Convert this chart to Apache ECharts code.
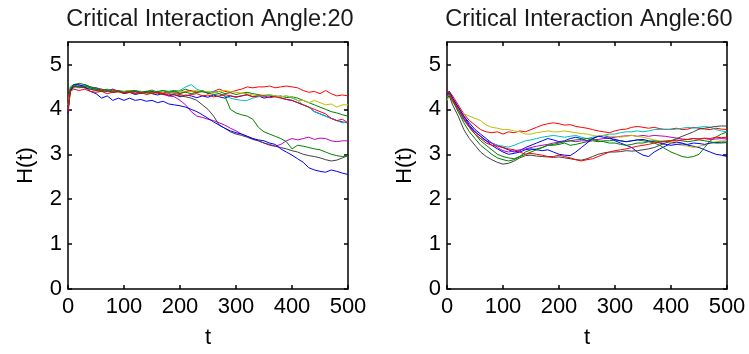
<!DOCTYPE html>
<html><head><meta charset="utf-8">
<script src="https://cdn.jsdelivr.net/npm/echarts@6/dist/echarts.min.js"></script>
<style>html,body{margin:0;padding:0;background:#fff}#c{width:749px;height:354px}</style>
</head><body><div id="c"></div>
<script>
// time steps (shared by every run)
var tValues = [0, 4, 10, 20, 30, 40, 50, 60, 70, 80, 90, 100, 110, 120, 130, 140, 150, 160, 170, 180, 190, 200,
  210, 220, 230, 240, 250, 260, 270, 280, 290, 300, 310, 320, 330, 340, 350, 360, 370, 380, 390, 400,
  410, 420, 430, 440, 450, 460, 470, 480, 490, 500];
var xTicks = [0, 100, 200, 300, 400, 500];
var yTicks = [0, 1, 2, 3, 4, 5];
var titles = ['Critical Interaction Angle:20', 'Critical Interaction Angle:60'];
var runColors = ['#0000ff', '#008000', '#ff0000', '#00bfbf', '#bf00bf', '#bfbf00', '#404040', '#0000ff', '#008000', '#ff0000'];

// ---- Angle 20 runs ----
var A20_1 = [4.0, 4.45, 4.5, 4.52, 4.55, 4.5, 4.45, 4.4, 4.42, 4.38, 4.4, 4.35, 4.38, 4.33, 4.36, 4.4, 4.35, 4.32, 4.36, 4.3, 4.33, 4.28, 4.32, 4.3, 4.26, 4.3, 4.27, 4.32, 4.28, 4.25, 4.3, 4.27, 4.3, 4.33, 4.28, 4.3, 4.25, 4.28, 4.3, 4.26, 4.22, 4.2, 4.15, 4.1, 4.05, 3.95, 3.9, 3.85, 3.8, 3.75, 3.72, 3.7];
var A20_2 = [4.1, 4.5, 4.55, 4.58, 4.55, 4.5, 4.48, 4.45, 4.42, 4.45, 4.4, 4.38, 4.42, 4.4, 4.36, 4.4, 4.43, 4.38, 4.35, 4.4, 4.42, 4.4, 4.45, 4.4, 4.38, 4.42, 4.36, 4.38, 4.4, 4.35, 4.37, 4.33, 4.36, 4.38, 4.35, 4.33, 4.3, 4.32, 4.28, 4.3, 4.26, 4.28, 4.25, 4.2, 4.15, 4.1, 4.05, 4.0, 3.95, 3.92, 3.88, 3.85];
var A20_3 = [4.2, 4.45, 4.5, 4.48, 4.5, 4.45, 4.42, 4.45, 4.4, 4.42, 4.38, 4.4, 4.42, 4.38, 4.4, 4.35, 4.38, 4.4, 4.36, 4.4, 4.38, 4.35, 4.4, 4.42, 4.38, 4.4, 4.36, 4.4, 4.45, 4.4, 4.38, 4.42, 4.45, 4.5, 4.48, 4.5, 4.5, 4.52, 4.48, 4.5, 4.52, 4.5, 4.48, 4.42, 4.38, 4.4, 4.35, 4.42, 4.35, 4.3, 4.32, 4.3];
var A20_4 = [4.0, 4.4, 4.48, 4.5, 4.52, 4.48, 4.45, 4.42, 4.4, 4.38, 4.42, 4.4, 4.38, 4.42, 4.4, 4.36, 4.4, 4.38, 4.42, 4.4, 4.38, 4.42, 4.5, 4.55, 4.45, 4.4, 4.38, 4.4, 4.35, 4.3, 4.25, 4.22, 4.2, 4.2, 4.25, 4.28, 4.3, 4.32, 4.3, 4.28, 4.3, 4.25, 4.2, 4.1, 4.05, 3.95, 3.9, 3.85, 3.8, 3.75, 3.7, 3.72];
var A20_5 = [4.05, 4.45, 4.52, 4.5, 4.48, 4.45, 4.48, 4.42, 4.4, 4.45, 4.4, 4.38, 4.4, 4.36, 4.4, 4.38, 4.35, 4.38, 4.33, 4.3, 4.28, 4.2, 4.1, 3.95, 3.85, 3.82, 3.78, 3.75, 3.7, 3.65, 3.58, 3.52, 3.45, 3.4, 3.35, 3.3, 3.25, 3.2, 3.18, 3.22, 3.3, 3.35, 3.32, 3.35, 3.38, 3.33, 3.36, 3.35, 3.3, 3.28, 3.3, 3.3];
var A20_6 = [4.1, 4.45, 4.48, 4.52, 4.5, 4.45, 4.42, 4.4, 4.43, 4.4, 4.38, 4.4, 4.42, 4.38, 4.4, 4.36, 4.38, 4.35, 4.4, 4.38, 4.36, 4.4, 4.38, 4.4, 4.42, 4.38, 4.4, 4.36, 4.4, 4.42, 4.4, 4.38, 4.36, 4.35, 4.32, 4.3, 4.32, 4.33, 4.3, 4.28, 4.3, 4.28, 4.2, 4.2, 4.15, 4.2, 4.15, 4.1, 4.12, 4.05, 4.1, 4.1];
var A20_7 = [4.0, 4.4, 4.5, 4.52, 4.48, 4.45, 4.42, 4.4, 4.42, 4.38, 4.4, 4.36, 4.38, 4.4, 4.35, 4.38, 4.4, 4.36, 4.33, 4.35, 4.32, 4.3, 4.28, 4.25, 4.2, 4.1, 4.0, 3.85, 3.65, 3.58, 3.5, 3.45, 3.42, 3.38, 3.33, 3.3, 3.25, 3.22, 3.18, 3.15, 3.12, 3.08, 3.05, 3.0, 2.97, 2.95, 2.92, 2.88, 2.85, 2.87, 2.92, 2.97];
var A20_8 = [3.9, 4.4, 4.55, 4.55, 4.5, 4.4, 4.35, 4.25, 4.3, 4.2, 4.25, 4.2, 4.25, 4.2, 4.22, 4.18, 4.2, 4.15, 4.18, 4.12, 4.1, 4.08, 4.05, 4.0, 3.95, 3.88, 3.8, 3.72, 3.65, 3.58, 3.52, 3.48, 3.45, 3.4, 3.35, 3.32, 3.3, 3.25, 3.22, 3.12, 3.05, 2.98, 2.9, 2.82, 2.7, 2.65, 2.62, 2.6, 2.65, 2.62, 2.58, 2.55];
var A20_9 = [4.0, 4.45, 4.55, 4.5, 4.52, 4.48, 4.45, 4.42, 4.45, 4.4, 4.42, 4.38, 4.4, 4.42, 4.38, 4.4, 4.36, 4.4, 4.42, 4.38, 4.4, 4.36, 4.38, 4.35, 4.38, 4.4, 4.36, 4.33, 4.35, 4.3, 4.0, 3.92, 3.88, 3.85, 3.78, 3.6, 3.5, 3.45, 3.4, 3.35, 3.28, 3.12, 3.2, 3.18, 3.15, 3.12, 3.1, 3.05, 3.0, 2.97, 2.95, 2.97];
var A20_10 = [3.95, 4.4, 4.45, 4.42, 4.45, 4.4, 4.38, 4.4, 4.35, 4.38, 4.4, 4.36, 4.38, 4.35, 4.38, 4.33, 4.36, 4.38, 4.35, 4.32, 4.35, 4.33, 4.3, 4.33, 4.35, 4.3, 4.32, 4.28, 4.3, 4.33, 4.3, 4.28, 4.3, 4.32, 4.28, 4.3, 4.3, 4.26, 4.28, 4.25, 4.22, 4.2, 4.15, 4.1, 4.05, 4.0, 3.95, 3.9, 3.8, 3.75, 3.78, 3.7];

// ---- Angle 60 runs ----
var A60_1 = [4.3, 4.38, 4.25, 4.05, 3.85, 3.7, 3.55, 3.45, 3.35, 3.25, 3.2, 3.15, 3.1, 3.05, 3.08, 3.15, 3.2, 3.25, 3.3, 3.35, 3.32, 3.28, 3.3, 3.35, 3.38, 3.35, 3.3, 3.35, 3.4, 3.42, 3.38, 3.3, 3.25, 3.2, 3.15, 3.05, 2.98, 2.95, 3.05, 3.12, 3.18, 3.25, 3.27, 3.25, 3.2, 3.18, 3.15, 3.1, 3.05, 3.0, 2.98, 2.95];
var A60_2 = [4.2, 4.35, 4.2, 4.0, 3.8, 3.6, 3.45, 3.3, 3.2, 3.1, 3.0, 2.95, 2.92, 2.9, 2.95, 3.05, 3.1, 3.12, 3.15, 3.2, 3.2, 3.22, 3.25, 3.2, 3.22, 3.25, 3.28, 3.3, 3.28, 3.3, 3.3, 3.32, 3.3, 3.28, 3.3, 3.32, 3.3, 3.28, 3.25, 3.2, 3.12, 3.05, 3.0, 2.95, 2.93, 2.95, 3.0, 3.15, 3.3, 3.38, 3.45, 3.5];
var A60_3 = [4.35, 4.4, 4.3, 4.1, 3.9, 3.75, 3.65, 3.55, 3.5, 3.48, 3.5, 3.45, 3.5, 3.48, 3.52, 3.5, 3.55, 3.6, 3.65, 3.68, 3.7, 3.68, 3.65, 3.66, 3.62, 3.6, 3.58, 3.55, 3.52, 3.5, 3.48, 3.52, 3.55, 3.56, 3.6, 3.62, 3.6, 3.58, 3.6, 3.57, 3.55, 3.56, 3.58, 3.55, 3.56, 3.6, 3.58, 3.56, 3.55, 3.58, 3.56, 3.55];
var A60_4 = [4.25, 4.35, 4.2, 3.95, 3.75, 3.6, 3.45, 3.35, 3.3, 3.25, 3.2, 3.18, 3.16, 3.2, 3.25, 3.3, 3.32, 3.35, 3.38, 3.4, 3.42, 3.4, 3.38, 3.4, 3.42, 3.38, 3.35, 3.38, 3.4, 3.42, 3.45, 3.45, 3.48, 3.5, 3.5, 3.52, 3.5, 3.52, 3.55, 3.55, 3.56, 3.55, 3.56, 3.58, 3.6, 3.58, 3.6, 3.62, 3.6, 3.55, 3.52, 3.5];
var A60_5 = [4.3, 4.35, 4.2, 4.0, 3.8, 3.62, 3.5, 3.4, 3.3, 3.25, 3.15, 3.08, 3.05, 3.08, 3.1, 3.12, 3.15, 3.18, 3.2, 3.22, 3.25, 3.27, 3.28, 3.3, 3.28, 3.3, 3.3, 3.32, 3.33, 3.35, 3.36, 3.38, 3.4, 3.41, 3.42, 3.4, 3.42, 3.4, 3.42, 3.41, 3.4, 3.38, 3.36, 3.34, 3.33, 3.35, 3.34, 3.35, 3.33, 3.34, 3.35, 3.34];
var A60_6 = [4.2, 4.3, 4.15, 4.0, 3.9, 3.85, 3.8, 3.75, 3.65, 3.6, 3.58, 3.55, 3.55, 3.52, 3.5, 3.45, 3.45, 3.48, 3.5, 3.52, 3.5, 3.5, 3.52, 3.5, 3.48, 3.46, 3.45, 3.42, 3.4, 3.42, 3.4, 3.4, 3.38, 3.4, 3.42, 3.4, 3.38, 3.35, 3.32, 3.3, 3.28, 3.25, 3.22, 3.2, 3.18, 3.15, 3.18, 3.2, 3.25, 3.28, 3.3, 3.3];
var A60_7 = [4.25, 4.3, 4.1, 3.85, 3.55, 3.35, 3.2, 3.05, 2.95, 2.88, 2.82, 2.78, 2.8, 2.85, 2.92, 2.97, 2.98, 2.96, 2.95, 2.94, 2.93, 2.94, 2.92, 2.9, 2.88, 2.87, 2.9, 2.95, 3.0, 3.03, 3.05, 3.05, 3.06, 3.08, 3.07, 3.08, 3.1, 3.12, 3.15, 3.2, 3.25, 3.3, 3.35, 3.4, 3.45, 3.5, 3.56, 3.58, 3.6, 3.62, 3.63, 3.63];
var A60_8 = [4.35, 4.4, 4.25, 4.05, 3.85, 3.65, 3.5, 3.4, 3.3, 3.2, 3.12, 3.05, 3.0, 3.02, 3.05, 3.1, 3.12, 3.1, 3.08, 3.1, 3.05, 3.0, 2.98, 2.97, 3.05, 3.15, 3.25, 3.35, 3.4, 3.38, 3.35, 3.33, 3.3, 3.28, 3.3, 3.32, 3.33, 3.3, 3.28, 3.25, 3.22, 3.2, 3.22, 3.23, 3.22, 3.25, 3.24, 3.22, 3.25, 3.26, 3.27, 3.27];
var A60_9 = [4.3, 4.35, 4.2, 3.95, 3.7, 3.5, 3.35, 3.2, 3.1, 3.0, 2.92, 2.88, 2.85, 2.88, 2.95, 3.0, 3.05, 3.1, 3.15, 3.2, 3.22, 3.25, 3.28, 3.3, 3.32, 3.33, 3.35, 3.33, 3.3, 3.28, 3.25, 3.25, 3.22, 3.2, 3.22, 3.25, 3.25, 3.28, 3.3, 3.28, 3.3, 3.3, 3.32, 3.3, 3.28, 3.3, 3.32, 3.3, 3.28, 3.25, 3.25, 3.26];
var A60_10 = [4.4, 4.38, 4.2, 4.0, 3.78, 3.6, 3.45, 3.35, 3.25, 3.2, 3.18, 3.15, 3.12, 3.1, 3.05, 3.0, 3.02, 3.0, 2.98, 2.95, 2.95, 2.98, 2.95, 2.92, 2.88, 2.85, 2.88, 2.9, 2.95, 3.0, 3.05, 3.08, 3.1, 3.12, 3.15, 3.18, 3.2, 3.22, 3.25, 3.27, 3.28, 3.3, 3.3, 3.32, 3.33, 3.35, 3.34, 3.36, 3.35, 3.38, 3.37, 3.38];

var runs20 = [A20_1, A20_2, A20_3, A20_4, A20_5, A20_6, A20_7, A20_8, A20_9, A20_10];
var runs60 = [A60_1, A60_2, A60_3, A60_4, A60_5, A60_6, A60_7, A60_8, A60_9, A60_10];

var FONT = 'Liberation Sans, Arial, sans-serif';
var gridLefts = [68, 447];
var grids = [], xAxes = [], yAxes = [], series = [], titleOpts = [];
[runs20, runs60].forEach(function (runs, g) {
  grids.push({left: gridLefts[g], top: 42, width: 280, height: 251, containLabel: false});
  titleOpts.push({text: titles[g], left: gridLefts[g] + 137, top: 3, textAlign: 'center',
    textStyle: {fontFamily: FONT, fontSize: 23.5, fontWeight: 'normal', color: '#1a1a1a'}});
  var lineStyle = {color: '#000', width: 1.5};
  xAxes.push({gridIndex: g, type: 'value', min: 0, max: 500, interval: 100, position: 'bottom',
    name: 't', nameLocation: 'middle', nameGap: 38,
    nameTextStyle: {fontFamily: FONT, fontSize: 22, color: '#000'},
    axisLine: {show: true, onZero: false, lineStyle: lineStyle},
    axisTick: {show: true, inside: true, length: 4, lineStyle: lineStyle},
    axisLabel: {fontFamily: FONT, fontSize: 22, color: '#000', margin: 7,
      formatter: function (v) { return xTicks.indexOf(v) >= 0 ? String(v) : ''; }},
    splitLine: {show: false}});
  xAxes.push({gridIndex: g, type: 'value', min: 0, max: 500, interval: 100, position: 'top',
    axisLine: {show: true, onZero: false, lineStyle: lineStyle},
    axisTick: {show: true, inside: true, length: 4, lineStyle: lineStyle},
    axisLabel: {show: false}, splitLine: {show: false}});
  yAxes.push({gridIndex: g, type: 'value', min: 0, max: 5.5, interval: 1, position: 'left',
    name: 'H(t)', nameLocation: 'middle', nameGap: 31, nameRotate: 90,
    nameTextStyle: {fontFamily: FONT, fontSize: 22, color: '#000'},
    axisLine: {show: true, onZero: false, lineStyle: lineStyle},
    axisTick: {show: true, inside: true, length: 4, lineStyle: lineStyle},
    axisLabel: {fontFamily: FONT, fontSize: 22, color: '#000', margin: 6, showMaxLabel: false,
      formatter: function (v) { return yTicks.indexOf(v) >= 0 ? String(v) : ''; }},
    splitLine: {show: false}});
  yAxes.push({gridIndex: g, type: 'value', min: 0, max: 5.5, interval: 1, position: 'right',
    axisLine: {show: true, onZero: false, lineStyle: lineStyle},
    axisTick: {show: true, inside: true, length: 4, lineStyle: lineStyle},
    axisLabel: {show: false}, splitLine: {show: false}});
  runs.forEach(function (vals, i) {
    series.push({type: 'line', xAxisIndex: 2 * g, yAxisIndex: 2 * g, symbol: 'none', animation: false,
      lineStyle: {color: runColors[i], width: 1}, itemStyle: {color: runColors[i]},
      data: vals.map(function (v, k) { return [tValues[k], v]; })});
  });
});

var chart = echarts.init(document.getElementById('c'), null, {renderer: 'canvas'});
chart.setOption({animation: false, backgroundColor: '#fff', title: titleOpts, grid: grids,
  xAxis: xAxes, yAxis: yAxes, series: series});
</script></body></html>
